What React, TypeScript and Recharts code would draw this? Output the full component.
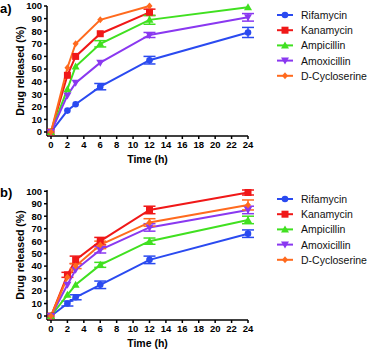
import React from 'react';
import { LineChart, Line, XAxis, YAxis, ErrorBar, Label } from 'recharts';

const times = [0, 2, 3, 6, 12, 24];
const drugs = ['Rifamycin', 'Kanamycin', 'Ampicillin', 'Amoxicillin', 'D-Cycloserine'];
const colors = ['#2a4af0', '#f01818', '#40e020', '#8a38f0', '#ff6a1e'];
const xTicks = [0, 2, 4, 6, 8, 10, 12, 14, 16, 18, 20, 22, 24];
const yTicks = [0, 10, 20, 30, 40, 50, 60, 70, 80, 90, 100];

// panel a (null = not measured)
const aRifamycin = [0, 17, 22, 36, 57, 79];
const aKanamycin = [0, 45, 60, 78, 95, null];
const aAmpicillin = [0, 34, 52, 70, 89, 99];
const aAmoxicillin = [0, 29, 39, 55, 77, 91];
const aCycloserine = [0, 51, 70, 89, 100, null];
const aRifamycinErr = [0, 0, 0, 2.5, 3, 4];
const aKanamycinErr = [0, 0, 0, 0, 2.5, 0];
const aAmpicillinErr = [0, 0, 0, 2.5, 3.5, 0];
const aAmoxicillinErr = [0, 0, 0, 0, 2, 3];
const aCycloserineErr = [0, 0, 0, 0, 0, 0];

// panel b
const bRifamycin = [0, 10, 15, 25, 45, 66];
const bKanamycin = [0, 33, 45, 60, 85, 99];
const bAmpicillin = [0, 17, 25, 41, 60, 77];
const bAmoxicillin = [0, 25, 37, 53, 71, 85];
const bCycloserine = [0, 31, 40, 57, 75, 89];
const bRifamycinErr = [0, 2, 2, 3, 3, 3];
const bKanamycinErr = [0, 2, 3, 3, 3, 2];
const bAmpicillinErr = [0, 0, 0, 2, 2.5, 3];
const bAmoxicillinErr = [0, 0, 0, 2.5, 3, 3];
const bCycloserineErr = [0, 0, 2, 3, 3, 4];

const buildRows = (series: (number | null)[][], errs: number[][]) =>
  times.map((t, i) => {
    const row: Record<string, number | null> = { t };
    series.forEach((s, k) => {
      row['s' + k] = s[i];
      row['e' + k] = errs[k][i];
    });
    return row;
  });

const dataA = buildRows(
  [aRifamycin, aKanamycin, aAmpicillin, aAmoxicillin, aCycloserine],
  [aRifamycinErr, aKanamycinErr, aAmpicillinErr, aAmoxicillinErr, aCycloserineErr]
);
const dataB = buildRows(
  [bRifamycin, bKanamycin, bAmpicillin, bAmoxicillin, bCycloserine],
  [bRifamycinErr, bKanamycinErr, bAmpicillinErr, bAmoxicillinErr, bCycloserineErr]
);

const FONT = 'Liberation Sans, Arial, sans-serif';

const Marker = ({ kind, cx, cy, color }: { kind: number; cx: number; cy: number; color: string }) => {
  if (cx == null || cy == null) return null;
  switch (kind) {
    case 0:
      return <circle cx={cx} cy={cy} r={3.3} fill={color} />;
    case 1:
      return <rect x={cx - 3.5} y={cy - 3.5} width={7} height={7} fill={color} />;
    case 2:
      return <polygon points={`${cx},${cy - 4} ${cx + 4},${cy + 3} ${cx - 4},${cy + 3}`} fill={color} />;
    case 3:
      return <polygon points={`${cx - 4},${cy - 3} ${cx + 4},${cy - 3} ${cx},${cy + 4}`} fill={color} />;
    default:
      return <polygon points={`${cx},${cy - 3.5} ${cx + 3},${cy} ${cx},${cy + 3.5} ${cx - 3},${cy}`} fill={color} />;
  }
};

const LegendBox = () => (
  <svg width={96} height={80}>
    {drugs.map((d, i) => {
      const y = 7 + i * 15.2;
      return (
        <g key={d}>
          <line x1={3} x2={19} y1={y} y2={y} stroke={colors[i]} strokeWidth={2} />
          <Marker kind={i} cx={11} cy={y} color={colors[i]} />
          <text x={27} y={y + 4} fontSize={10.5} fontFamily={FONT} fill="#111">{d}</text>
        </g>
      );
    })}
  </svg>
);

const Panel = ({ data, tag }: { data: Record<string, number | null>[]; tag: string }) => (
  <div style={{ position: 'relative', width: 370, height: 170 }}>
    <div style={{ position: 'absolute', left: 0, top: 1, fontFamily: FONT, fontWeight: 'bold', fontSize: 13 }}>{tag}</div>
    <LineChart width={260} height={170} data={data} margin={{ top: 6, right: 12, left: 0, bottom: 0 }}>
      <XAxis
        dataKey="t"
        type="number"
        domain={[0, 24]}
        ticks={xTicks}
        interval={0}
        padding={{ left: 4, right: 0 }}
        stroke="#000"
        strokeWidth={1.5}
        tickSize={3}
        tick={{ fontSize: 9.5, fontWeight: 'bold', fontFamily: FONT, fill: '#000' }}
        height={34}
      >
        <Label value="Time (h)" position="insideBottom" offset={7} style={{ fontSize: 10.5, fontWeight: 'bold', fontFamily: FONT, fill: '#000' }} />
      </XAxis>
      <YAxis
        type="number"
        domain={[0, 100]}
        ticks={yTicks}
        interval={0}
        padding={{ top: 0, bottom: 4 }}
        stroke="#000"
        strokeWidth={1.5}
        tickSize={3}
        tick={{ fontSize: 9.5, fontWeight: 'bold', fontFamily: FONT, fill: '#000' }}
        width={47}
      >
        <Label value="Drug released (%)" angle={-90} position="insideLeft" offset={20} style={{ fontSize: 10.5, fontWeight: 'bold', fontFamily: FONT, fill: '#000', textAnchor: 'middle' }} />
      </YAxis>
      {drugs.map((d, i) => (
        <Line
          key={d}
          name={d}
          dataKey={'s' + i}
          stroke={colors[i]}
          strokeWidth={2}
          isAnimationActive={false}
          dot={(p: any) => <Marker key={d + p.index} kind={i} cx={p.cx} cy={p.cy} color={colors[i]} />}
          activeDot={false}
        >
          <ErrorBar dataKey={'e' + i} direction="y" width={6} stroke={colors[i]} strokeWidth={1.5} />
        </Line>
      ))}
    </LineChart>
    <div style={{ position: 'absolute', left: 274, top: 8 }}>
      <LegendBox />
    </div>
  </div>
);

export default function App() {
  return (
    <div style={{ position: 'absolute', left: 0, top: 0, width: 370, height: 349, background: '#fff' }}>
      <div style={{ position: 'absolute', left: 0, top: 0 }}>
        <Panel data={dataA} tag="a)" />
      </div>
      <div style={{ position: 'absolute', left: 0, top: 184 }}>
        <Panel data={dataB} tag="b)" />
      </div>
    </div>
  );
}
